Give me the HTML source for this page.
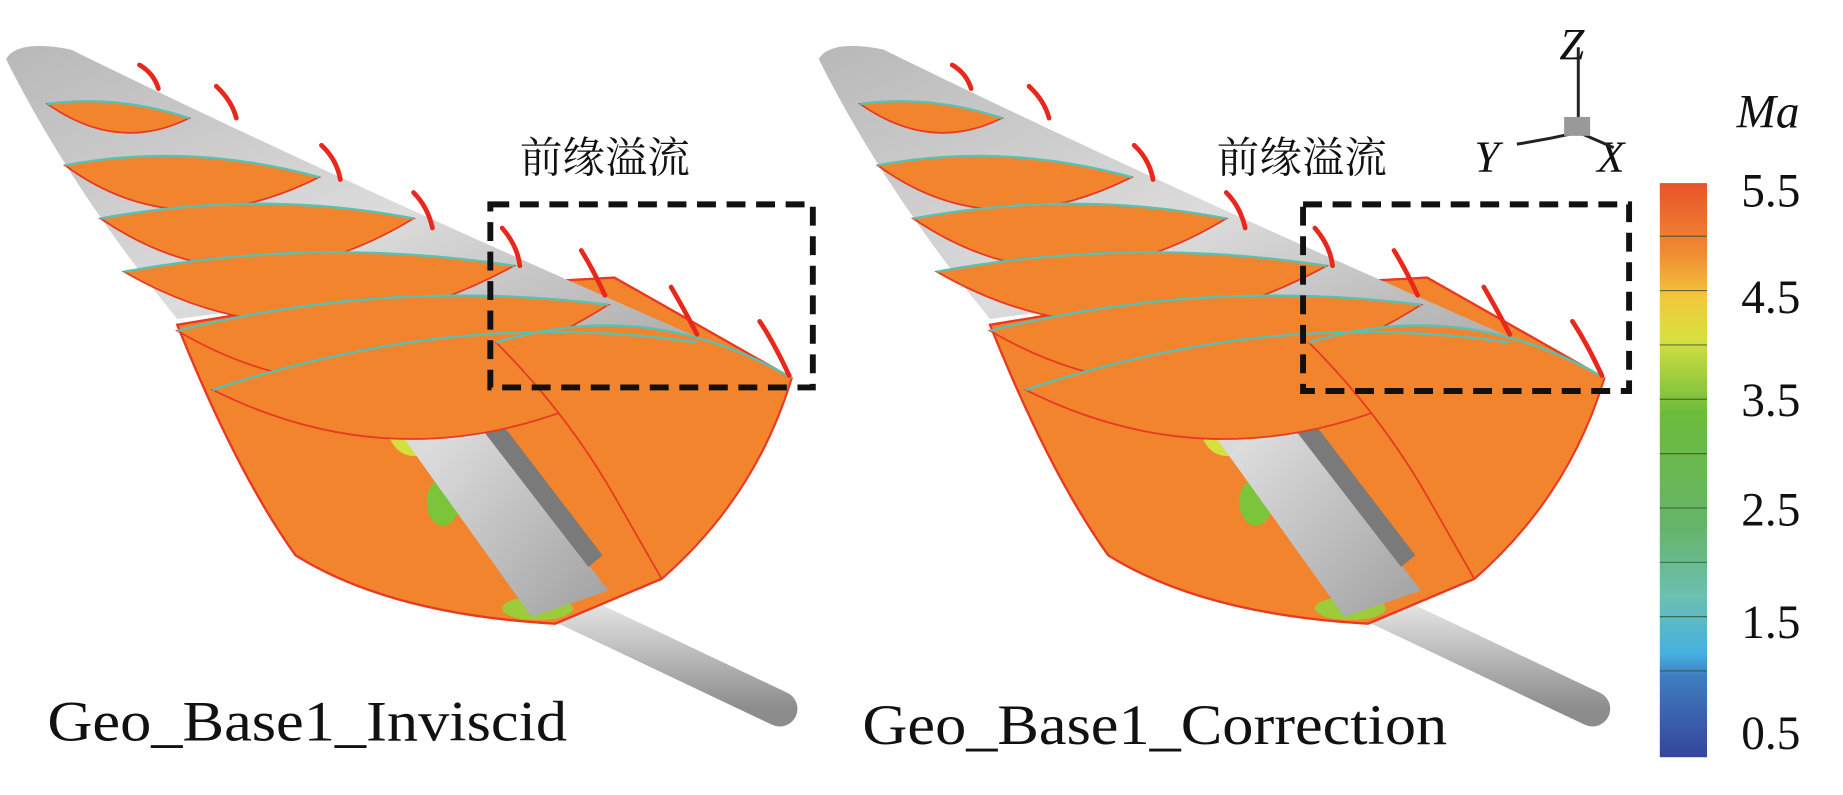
<!DOCTYPE html>
<html><head><meta charset="utf-8"><style>html,body{margin:0;padding:0;background:#fff}svg{display:block}</style></head>
<body>
<svg width="1843" height="795" viewBox="0 0 1560 673" xmlns="http://www.w3.org/2000/svg">
<defs>
<linearGradient id="gb" x1="0" y1="0" x2="1" y2="1">
<stop offset="0" stop-color="#b8b8b8"/><stop offset="0.5" stop-color="#dcdcdc"/><stop offset="1" stop-color="#a0a0a0"/></linearGradient>
<linearGradient id="st" x1="0" y1="0" x2="0" y2="1">
<stop offset="0" stop-color="#e6e6e6"/><stop offset="1" stop-color="#8c8c8c"/></linearGradient>
<linearGradient id="cb" x1="0" y1="0" x2="0" y2="1">
<stop offset="0" stop-color="#e9532b"/><stop offset="0.12" stop-color="#f08a32"/><stop offset="0.2" stop-color="#f2c83a"/>
<stop offset="0.27" stop-color="#d8e040"/><stop offset="0.4" stop-color="#6cbc3c"/><stop offset="0.6" stop-color="#66b46a"/>
<stop offset="0.72" stop-color="#6cc0b0"/><stop offset="0.82" stop-color="#46b0e0"/><stop offset="0.86" stop-color="#3f7cc0"/>
<stop offset="1" stop-color="#35469a"/></linearGradient>
<g id="panel">
<path d="M470,510 L660,600" stroke="url(#st)" stroke-width="30" stroke-linecap="round" fill="none"/>
<path d="M150,275 L300,250 L430,240 L520,235 L670,320 Q640,420 560,490 L470,528 Q330,520 250,470 Q200,400 150,275 Z" fill="#f2842e" stroke="#e83a22" stroke-width="2"/>
<ellipse cx="295" cy="300" rx="30" ry="18" fill="#e6e43a"/>
<ellipse cx="350" cy="360" rx="22" ry="26" fill="#d4e03c"/>
<ellipse cx="375" cy="425" rx="14" ry="20" fill="#7cc43a"/>
<ellipse cx="455" cy="515" rx="30" ry="10" fill="#9ccc3a"/>
<path d="M230,215 L300,220 L515,500 L450,522 Z" fill="url(#gb)"/>
<path d="M305,230 L330,235 L510,470 L498,480 Z" fill="#7a7a7a"/>
<path d="M5,50 Q15,33 60,42 Q300,160 670,320 L520,300 L300,250 L150,270 Q60,160 5,50 Z" fill="url(#gb)"/>
<g fill="#f2842e" stroke="#e83a22" stroke-width="1.5">
<path d="M40,88 Q100,80 160,100 Q100,130 40,88 Z"/>
<path d="M55,140 Q160,120 270,150 Q150,210 55,140 Z"/>
<path d="M85,185 Q220,160 350,185 Q210,270 85,185 Z"/>
<path d="M105,230 Q270,200 435,225 Q260,320 105,230 Z"/>
<path d="M150,280 Q330,235 515,258 Q320,380 150,280 Z"/>
<path d="M180,330 Q390,260 590,290 Q380,430 180,330 Z"/>
<path d="M420,290 Q550,250 670,320 Q640,420 560,490 L520,420 Q480,350 420,290 Z"/>
</g>
<g stroke="#5cc0b0" stroke-width="2" fill="none">
<path d="M40,88 Q100,80 160,100"/><path d="M55,140 Q160,120 270,150"/><path d="M85,185 Q220,160 350,185"/>
<path d="M105,230 Q270,200 435,225"/><path d="M150,280 Q330,235 515,258"/><path d="M180,330 Q390,260 590,290"/><path d="M420,290 Q550,250 670,320"/>
</g>
<g stroke="#e8281c" stroke-width="4" fill="none" stroke-linecap="round">
<path d="M118,55 Q130,62 134,75"/><path d="M183,73 Q196,85 200,100"/><path d="M272,123 Q285,135 288,152"/>
<path d="M350,163 Q362,175 366,193"/><path d="M425,193 Q438,208 440,225"/><path d="M492,212 Q503,230 512,250"/>
<path d="M568,243 Q578,260 590,283"/><path d="M643,272 Q655,290 668,318"/>
</g>
</g>
</defs>
<use href="#panel"/>
<use href="#panel" transform="translate(688,0)"/>
<g font-family="'Liberation Serif','Noto Serif CJK SC',serif" fill="#111">
<text x="440" y="146" font-size="36">前缘溢流</text>
<text x="1030" y="146" font-size="36">前缘溢流</text>
<text x="40" y="627" font-size="48" textLength="440" lengthAdjust="spacingAndGlyphs">Geo_Base1_Inviscid</text>
<text x="730" y="630" font-size="48" textLength="495" lengthAdjust="spacingAndGlyphs">Geo_Base1_Correction</text>
<text x="1320" y="50" font-size="38" font-style="italic">Z</text>
<text x="1248" y="145" font-size="38" font-style="italic">Y</text>
<text x="1352" y="145" font-size="38" font-style="italic">X</text>
<text x="1470" y="108" font-size="40" font-style="italic">Ma</text>
<g font-size="40">
<text x="1474" y="175">5.5</text><text x="1474" y="265">4.5</text><text x="1474" y="352">3.5</text>
<text x="1474" y="445">2.5</text><text x="1474" y="540">1.5</text><text x="1474" y="634">0.5</text>
</g>
</g>
<g stroke="#111" stroke-width="5" stroke-dasharray="16,9" fill="none">
<rect x="415" y="173" width="273" height="155"/>
<rect x="1103" y="173" width="276" height="158"/>
</g>
<g stroke="#222" stroke-width="2.5" fill="none">
<path d="M1336,40 L1336,112"/><path d="M1284,122 Q1310,118 1336,112 L1366,125"/>
</g>
<rect x="1324" y="99" width="22" height="16" fill="#999"/>
<rect x="1405" y="155" width="40" height="486" fill="url(#cb)"/>
<g stroke="#2a4a2a" stroke-width="1" opacity="0.7">
<line x1="1405" y1="200" x2="1445" y2="200"/><line x1="1405" y1="246" x2="1445" y2="246"/>
<line x1="1405" y1="292" x2="1445" y2="292"/><line x1="1405" y1="338" x2="1445" y2="338"/>
<line x1="1405" y1="384" x2="1445" y2="384"/><line x1="1405" y1="430" x2="1445" y2="430"/>
<line x1="1405" y1="476" x2="1445" y2="476"/><line x1="1405" y1="522" x2="1445" y2="522"/>
<line x1="1405" y1="568" x2="1445" y2="568"/>
</g>
</svg>
</body></html>
